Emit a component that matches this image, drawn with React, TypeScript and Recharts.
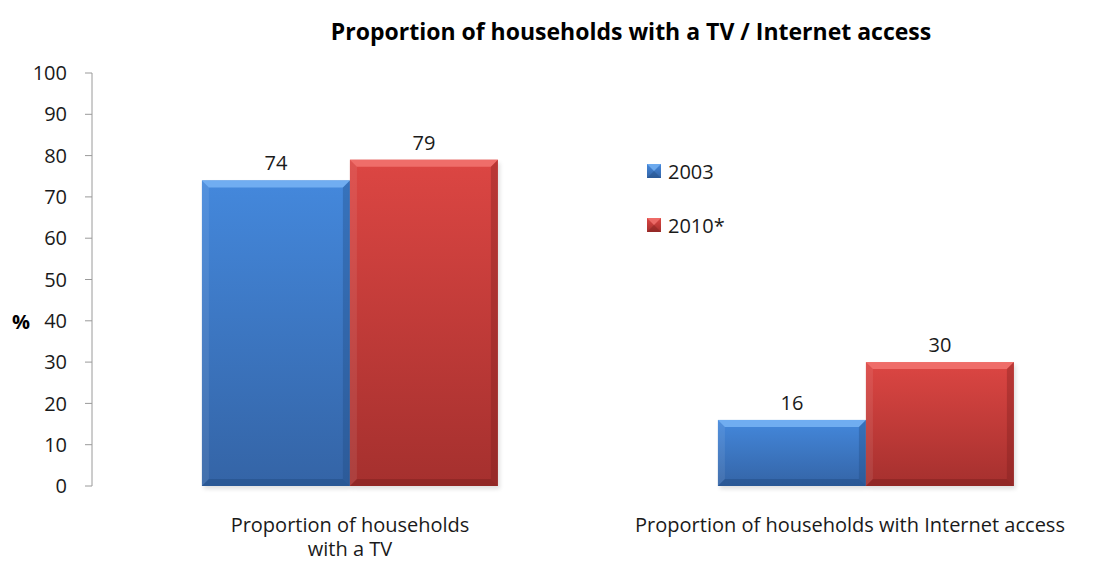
import React from 'react';
import { BarChart, Bar, XAxis, YAxis, Legend, LabelList, Label } from 'recharts';

const categories = ['Proportion of households\nwith a TV', 'Proportion of households with Internet access'];
const series2003 = [74, 16];
const series2010 = [79, 30];
const seriesNames = ['2003', '2010*'];
const yTicks = [0, 10, 20, 30, 40, 50, 60, 70, 80, 90, 100];
const boundaryTicks = [0, 1, 2];

const data = categories.map((c, i) => ({ idx: i + 0.5, name: c, v2003: series2003[i], v2010: series2010[i] }));

const FONT = '"Open Sans", Lato, sans-serif';
const FS = 20;

const palettes = [
  { gid: 'gBlue', top: '#4488DC', bottom: '#3464A6', light: '#78B4F4', dark: '#1F4A80' },
  { gid: 'gRed', top: '#DC4643', bottom: '#A5302E', light: '#F27470', dark: '#7A1E1C' },
];

const makeBevel = (p: any) => (props: any) => {
  const { x, y, width: w, height: h } = props;
  if (!h || h <= 0) return null;
  const b = Math.min(7, h / 2, w / 2);
  return (
    <g>
      <rect x={x + 2} y={y + 3} width={w} height={h} fill="#000" opacity={0.12} filter="url(#blurSh)" />
      <rect x={x} y={y} width={w} height={h} fill={`url(#${p.gid})`} />
      <polygon points={`${x},${y} ${x + w},${y} ${x + w - b},${y + b} ${x + b},${y + b}`} fill={p.light} opacity={0.85} />
      <polygon points={`${x},${y} ${x + b},${y + b} ${x + b},${y + h - b} ${x},${y + h}`} fill="#fff" opacity={0.08} />
      <polygon points={`${x + w},${y} ${x + w - b},${y + b} ${x + w - b},${y + h - b} ${x + w},${y + h}`} fill={p.dark} opacity={0.35} />
      <polygon points={`${x},${y + h} ${x + b},${y + h - b} ${x + w - b},${y + h - b} ${x + w},${y + h}`} fill={p.dark} opacity={0.45} />
    </g>
  );
};

const CatTick = (props: any) => {
  const { x, y, payload, index } = props;
  const lines = String(payload.value).split('\n');
  const dx = index === categories.length - 1 ? -16 : 0;
  return (
    <g>
      {lines.map((l, i) => (
        <text key={i} x={x + dx} y={y + 38 + i * 24} textAnchor="middle" fontFamily={FONT} fontSize={FS} fill="#1a1a1a">
          {l}
        </text>
      ))}
    </g>
  );
};

const LegendContent = () => (
  <div style={{ position: 'relative', height: 0 }}>
    <div style={{ position: 'absolute', left: 0, top: 0, width: 120, fontFamily: FONT, fontSize: FS, color: '#1a1a1a' }}>
      {seriesNames.map((n, i) => {
        const p = palettes[i];
        return (
          <div key={n} style={{ display: 'flex', alignItems: 'center', height: 22, marginBottom: i === 0 ? 32 : 0 }}>
            <svg width={15} height={15} style={{ marginRight: 6 }}>
              <defs>
                <linearGradient id={`lg${i}`} x1="0" y1="0" x2="0" y2="1">
                  <stop offset="0" stopColor={p.top} />
                  <stop offset="1" stopColor={p.bottom} />
                </linearGradient>
              </defs>
              <rect x={0} y={0} width={14} height={14} fill={`url(#lg${i})`} />
              <polygon points="0,0 14,0 7,7" fill={p.light} opacity={0.8} />
              <polygon points="0,14 14,14 7,7" fill={p.dark} opacity={0.4} />
            </svg>
            <span>{n}</span>
          </div>
        );
      })}
    </div>
  </div>
);

export default function App() {
  return (
    <div style={{ position: 'relative', width: 1104, height: 555, overflow: 'hidden', background: '#fff' }}>
      <div
        style={{
          position: 'absolute', left: 223, width: 800, top: 8, textAlign: 'center',
          fontFamily: FONT, fontWeight: 'bold', fontSize: 23, lineHeight: '30px', color: '#000', zIndex: 2,
        }}
      >
        Proportion of households with a TV / Internet access
      </div>
      <BarChart
        width={1130}
        height={555}
        data={data}
        margin={{ top: 65, right: 14, bottom: 17, left: 24 }}
        barGap={0}
        barCategoryGap="21.3%"
      >
        <defs>
          {palettes.map((p) => (
            <linearGradient key={p.gid} id={p.gid} x1="0" y1="0" x2="0" y2="1">
              <stop offset="0" stopColor={p.top} />
              <stop offset="1" stopColor={p.bottom} />
            </linearGradient>
          ))}
          <filter id="blurSh" x="-10%" y="-10%" width="120%" height="120%">
            <feGaussianBlur stdDeviation="2" />
          </filter>
        </defs>
        <XAxis
          xAxisId="b"
          type="number"
          dataKey="idx"
          domain={[0, 2]}
          ticks={boundaryTicks}
          tickFormatter={() => ''}
          height={0}
          tickSize={7}
          axisLine={{ stroke: '#9a9a9a' }}
          tickLine={{ stroke: '#9a9a9a' }}
        />
        <XAxis
          xAxisId="c"
          dataKey="name"
          height={60}
          axisLine={false}
          tickLine={false}
          tick={<CatTick />}
          interval={0}
        />
        <YAxis
          domain={[0, 100]}
          ticks={yTicks}
          width={60}
          tickSize={7}
          tickMargin={18}
          axisLine={{ stroke: '#9a9a9a' }}
          tickLine={{ stroke: '#9a9a9a' }}
          tick={{ fontFamily: FONT, fontSize: FS, fill: '#1a1a1a' }}
          interval={0}
        >
          <Label
            value="%"
            position="insideLeft"
            offset={-20}
            dy={42}
            style={{ fontFamily: FONT, fontSize: FS, fontWeight: 'bold', fill: '#000' }}
          />
        </YAxis>
        <Legend
          layout="vertical"
          content={<LegendContent />}
          wrapperStyle={{ position: 'absolute', left: 639, top: 152, width: 120, height: 0 }}
        />
        <Bar xAxisId="c" dataKey="v2003" name={seriesNames[0]} fill={palettes[0].top} shape={makeBevel(palettes[0])} isAnimationActive={false}>
          <LabelList dataKey="v2003" position="top" offset={10} style={{ fontFamily: FONT, fontSize: FS, fill: '#1a1a1a' }} />
        </Bar>
        <Bar xAxisId="c" dataKey="v2010" name={seriesNames[1]} fill={palettes[1].top} shape={makeBevel(palettes[1])} isAnimationActive={false}>
          <LabelList dataKey="v2010" position="top" offset={10} style={{ fontFamily: FONT, fontSize: FS, fill: '#1a1a1a' }} />
        </Bar>
      </BarChart>
    </div>
  );
}
